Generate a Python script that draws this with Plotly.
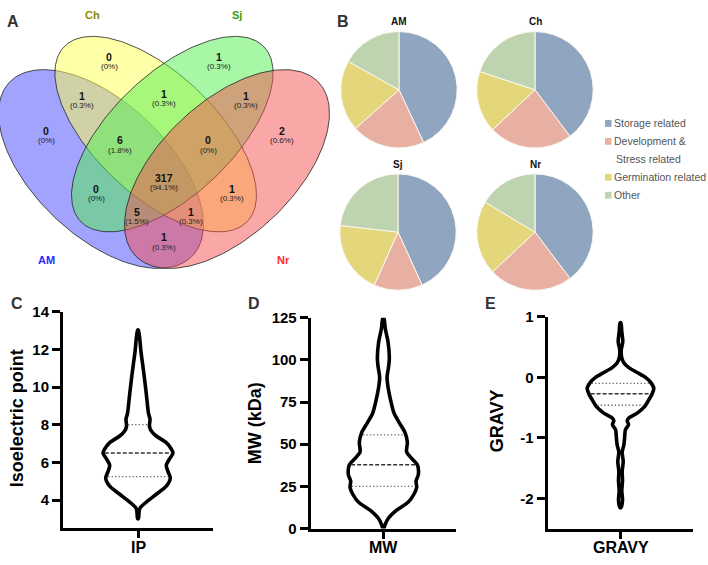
import numpy as np
import plotly.graph_objects as go

W, H = 708, 565

# ---------------- DATA ----------------
venn_sets = ["AM", "Ch", "Sj", "Nr"]
venn_regions = ["Ch", "Sj", "AM&Ch", "Ch&Sj", "Sj&Nr", "AM", "AM&Ch&Sj", "Ch&Sj&Nr", "Nr",
                "AM&Ch&Sj&Nr", "AM&Sj", "Ch&Nr", "AM&Sj&Nr", "AM&Ch&Nr", "AM&Nr"]
venn_counts = [0, 1, 1, 1, 1, 0, 6, 0, 2, 317, 0, 1, 5, 1, 1]

pie_groups = ["AM", "Ch", "Sj", "Nr"]
pie_categories = ["Storage related", "Development &<br>Stress related", "Germination related", "Other"]
pie_AM = [43.1, 20.4, 19.7, 16.9]
pie_Ch = [39.7, 23.2, 17.1, 19.9]
pie_Sj = [43.2, 13.5, 20.1, 23.2]
pie_Nr = [39.7, 23.3, 20.6, 16.4]

# violin outlines: value levels and half-widths
ip_y = [3.02, 3.45, 3.62, 3.97, 4.31, 4.74, 5.17, 5.51, 5.85, 6.20, 6.50, 6.71, 7.05, 7.40,
        7.65, 7.90, 8.30, 8.60, 9.63, 10.66, 11.86, 13.02]
ip_w = [0.4, 1.2, 2.5, 10, 18.3, 28.3, 32.3, 30, 28.3, 31.7, 35, 33.3, 28.3, 18.3,
        13.5, 11.5, 12, 10.5, 8.3, 6, 3.0, 0.4]
ip_quartiles = [5.25, 6.5, 8.0]

mw_y = [0, 2.3, 6.1, 10.9, 15.7, 20.5, 24.3, 28.2, 32, 37.8, 41.6, 45.4, 51.2, 56.9, 62.7,
        68.4, 76, 83.8, 89.5, 96.2, 101, 110.6, 118.3, 125]
mw_w = [0.4, 1.7, 5, 13.3, 25, 30.7, 33.3, 32.7, 35, 34, 28.3, 23.3, 24, 21.7, 16,
        10.7, 7.3, 4.7, 3.7, 5.3, 6, 4.7, 2, 0.4]
mw_quartiles = [25, 37.8, 55.5]

gravy_y = [-2.15, -2.03, -1.87, -1.71, -1.55, -1.39, -1.23, -1.12, -1.02, -0.86, -0.78, -0.72,
           -0.67, -0.59, -0.48, -0.37, -0.27, -0.18, -0.08, 0, 0.08, 0.16, 0.24, 0.32, 0.45,
           0.59, 0.75, 0.9]
gravy_w = [0.4, 2, 1.3, 2, 1.7, 2.7, 1.7, 3.3, 4, 5, 8, 6.7, 8.3, 16.7, 24.3, 28.3, 31.7,
           33.3, 30, 25, 16.7, 8.3, 3.3, 1.3, 0.7, 2.3, 1.3, 0.4]
gravy_quartiles = [-0.46, -0.27, -0.1]

ip_ticks = [4, 6, 8, 10, 12, 14]
mw_ticks = [0, 25, 50, 75, 100, 125]
gravy_ticks = [-2, -1, 0, 1]

# ---------------- STYLE / LAYOUT ----------------
FONT = "Liberation Sans"
venn_fill = ["rgba(70,70,255,0.5)", "rgba(255,255,80,0.5)", "rgba(80,240,80,0.5)", "rgba(245,80,80,0.5)"]
venn_label_colors = ["#2b2bff", "#8c8c00", "#3c9a00", "#ff2a2a"]
venn_label_pos = [(46, 259), (92, 6), (237, 6), (283, 259)]
# ellipse geometry in pixel units: cx, cy, a, b, angle
venn_geom = [(101, 165, 128, 68, 45), (155.7, 129, 128.5, 61.7, 45),
             (172.3, 129, 128.5, 61.7, -45), (227, 165, 128, 68, -45)]
venn_text_pos = [(109, 50), (219, 50), (82, 90), (164, 88), (246, 90), (46, 126), (120, 136),
                 (208, 136), (282, 126), (164, 175), (96, 186), (232, 186), (137, 210),
                 (191, 210), (164, 236)]
pie_colors = ["#8FA5C0", "#E8B0A3", "#E4D67A", "#BED4B0"]
pie_centers = [(399, 83.3), (535, 83.3), (398, 230), (535, 230)]
pie_r = 60


def px(x):
    return x / W


def py(y):
    return 1 - y / H


def note(x, y, text, size, color="black", bold=False, xanchor="center", angle=0):
    f = dict(family=FONT, size=size, color=color)
    if bold:
        f["weight"] = "bold"
    return dict(x=px(x), y=py(y), xref="paper", yref="paper", text=text, showarrow=False,
                xanchor=xanchor, yanchor="middle", textangle=angle, font=f, borderpad=0)


fig = go.Figure()
annotations = []
shapes = []

# ---- Panel A: Venn ----
t = np.linspace(0, 2 * np.pi, 240)
for (cx, cy, a, b, ang), col in zip(venn_geom, venn_fill):
    phi = np.deg2rad(ang)
    xs = cx + a * np.cos(t) * np.cos(phi) - b * np.sin(t) * np.sin(phi)
    ys = cy + a * np.cos(t) * np.sin(phi) + b * np.sin(t) * np.cos(phi)
    fig.add_trace(go.Scatter(x=xs, y=ys, mode="lines", fill="toself", fillcolor=col,
                             line=dict(color="#222222", width=0.8), hoverinfo="skip",
                             showlegend=False, xaxis="x", yaxis="y"))

total = sum(venn_counts)
for cnt, (x, y) in zip(venn_counts, venn_text_pos):
    pct = cnt / total * 100
    ptxt = "(0%)" if cnt == 0 else f"({pct:.1f}%)"
    annotations.append(note(x, y - 0.5, str(cnt), 10.5, "#111111", bold=True))
    annotations.append(note(x, y + 9.5, ptxt, 8, "#222222"))

for name, col, (x, y) in zip(venn_sets, venn_label_colors, venn_label_pos):
    annotations.append(note(x, y, name, 11, col, bold=True))

# ---- Panel B: pies ----
for name, vals, (cx, cy) in zip(pie_groups, [pie_AM, pie_Ch, pie_Sj, pie_Nr], pie_centers):
    fig.add_trace(go.Pie(values=vals, labels=pie_categories, sort=False, direction="clockwise",
                         rotation=0, textinfo="none", hoverinfo="skip", showlegend=False,
                         marker=dict(colors=pie_colors, line=dict(color="#FBF8EE", width=1)),
                         domain=dict(x=[px(cx - pie_r), px(cx + pie_r)],
                                     y=[py(cy + pie_r), py(cy - pie_r)])))
    annotations.append(note(cx, cy - pie_r - 10, name, 10, "#111111", bold=True))

# manual legend
leg_y = 118
for lab, col in zip(pie_categories, pie_colors):
    shapes.append(dict(type="rect", xref="paper", yref="paper", x0=px(605), x1=px(611.5),
                       y0=py(leg_y + 3.5), y1=py(leg_y - 3.5), fillcolor=col, line=dict(width=0)))
    for i, line in enumerate(lab.split("<br>")):
        annotations.append(note(613 if i == 0 else 615, leg_y, line, 10.5, "#555555", xanchor="left"))
        leg_y += 18.5

# ---- Panels C, D, E: violins ----
panels = [
    dict(ax="2", y=ip_y, w=ip_w, q=ip_quartiles, x0=63, x1=213, ytop=312, ybot=535.5,
         rng=[2.5, 14], ticks=ip_ticks, cat="IP", title="Isoelectric point", tpos=(17, 422)),
    dict(ax="3", y=mw_y, w=mw_w, q=mw_quartiles, x0=310.7, x1=456, ytop=318.3, ybot=535.7,
         rng=[0, 125], ticks=mw_ticks, cat="MW", title="MW (kDa)", tpos=(255, 427)),
    dict(ax="4", y=gravy_y, w=gravy_w, q=gravy_quartiles, x0=547.7, x1=693.3, ytop=317.3, ybot=536,
         rng=[-2.5, 1], ticks=gravy_ticks, cat="GRAVY", title="GRAVY", tpos=(497, 425)),
]

layout_axes = {}
for p in panels:
    yv = np.array(p["y"])
    wv = np.array(p["w"])
    xs = np.concatenate([wv, -wv[::-1], wv[:1]])
    ys = np.concatenate([yv, yv[::-1], yv[:1]])
    fig.add_trace(go.Scatter(x=xs, y=ys, mode="lines",
                             line=dict(color="black", width=3.6, shape="spline", smoothing=0.8),
                             hoverinfo="skip", showlegend=False, xaxis="x" + p["ax"], yaxis="y" + p["ax"]))
    for j, q in enumerate(p["q"]):
        half = max(np.interp(q, yv, wv) - 1.8, 0)
        fig.add_trace(go.Scatter(x=[-half, half], y=[q, q], mode="lines",
                                 line=dict(color="#333333" if j == 1 else "#666666",
                                           width=1.5 if j == 1 else 1.3,
                                           dash="4px,2px" if j == 1 else "1.3px,2.2px"),
                                 hoverinfo="skip", showlegend=False,
                                 xaxis="x" + p["ax"], yaxis="y" + p["ax"]))
    half_w = (p["x1"] - p["x0"]) / 2
    layout_axes["xaxis" + p["ax"]] = dict(
        domain=[px(p["x0"]), px(p["x1"])], anchor="y" + p["ax"], range=[-half_w, half_w],
        tickvals=[0], showticklabels=False, ticks="outside", ticklen=7, tickwidth=3,
        tickcolor="black", showline=True, linewidth=3, linecolor="black", showgrid=False,
        zeroline=False, fixedrange=True)
    layout_axes["yaxis" + p["ax"]] = dict(
        domain=[py(p["ybot"]), py(p["ytop"])], anchor="x" + p["ax"], range=p["rng"],
        tickvals=p["ticks"], ticktext=[str(v) for v in p["ticks"]], ticks="outside",
        ticklen=8, tickwidth=3, tickcolor="black", showline=True, linewidth=3,
        linecolor="black", showgrid=False, zeroline=False, fixedrange=True,
        tickfont=dict(family=FONT, size=15, color="black", weight="bold"))
    annotations.append(note(p["tpos"][0], p["tpos"][1], p["title"], 18, "black", bold=True, angle=-90))
    annotations.append(note((p["x0"] + p["x1"]) / 2, 555, p["cat"], 16, "black", bold=True))

# panel letters
for letter, (x, y) in zip("ABCDE", [(13, 13), (343, 13), (17, 304), (254, 304), (490, 304)]):
    annotations.append(note(x, y, letter, 16, "#333333", bold=True))

fig.update_layout(
    width=W, height=H, autosize=False, margin=dict(l=0, r=0, t=0, b=0),
    paper_bgcolor="white", plot_bgcolor="white", showlegend=False,
    xaxis=dict(domain=[0, px(340)], range=[0, 340], visible=False, anchor="y", fixedrange=True),
    yaxis=dict(domain=[py(295), 1], range=[295, 0], visible=False, anchor="x", fixedrange=True),
    annotations=annotations, shapes=shapes,
    **layout_axes,
)

fig.write_html("out.html", config={"displayModeBar": False},
               post_script="document.body.style.margin='0';document.body.style.overflow='hidden';")
